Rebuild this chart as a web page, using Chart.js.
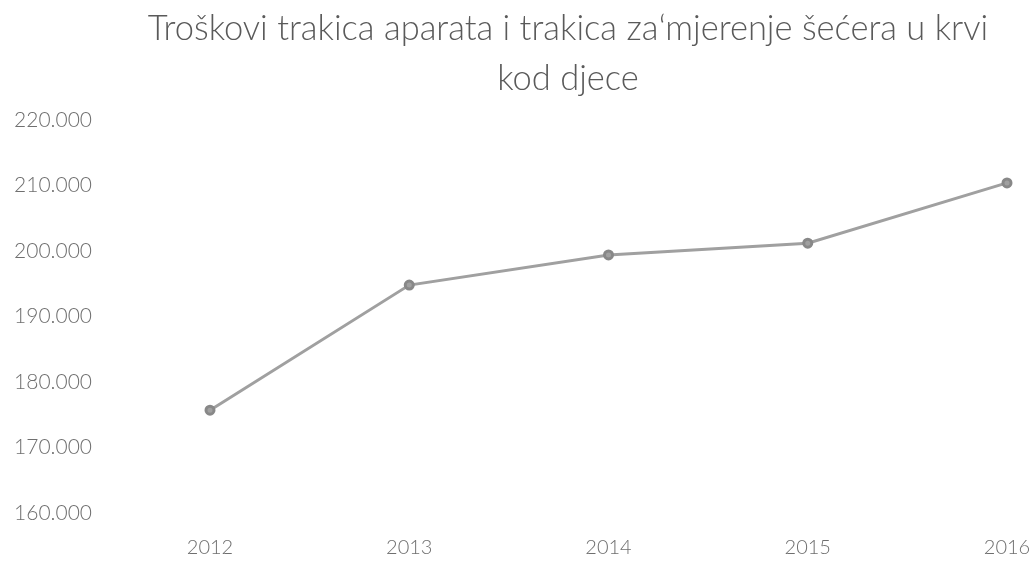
<!DOCTYPE html>
<html>
<head>
<meta charset="utf-8">
<script src="https://cdn.jsdelivr.net/npm/chart.js@4/dist/chart.umd.min.js"></script>
<style>
  html, body { margin: 0; padding: 0; background: #fff; overflow: hidden; }
  canvas { display: block; }
</style>
</head>
<body>
<canvas id="costChart" width="1032" height="566"></canvas>
<script>
const years = ['2012', '2013', '2014', '2015', '2016'];
const costs = [175700, 194800, 199400, 201200, 210400];
const yMin = 160000;
const yMax = 220000;
const yStep = 10000;
const titleLines = ['Troškovi trakica aparata i trakica za\u02bbmjerenje šećera u krvi', 'kod djece'];

function formatThousands(v) {
    return String(v).replace(/\B(?=(\d{3})+(?!\d))/g, '.');
}

// the scanned title sits right of the canvas centre, so narrow its box a bit
const shiftTitle = {
    id: 'shiftTitle',
    afterLayout(chart) {
        if (chart.titleBlock) {
            chart.titleBlock.left = 129;
            chart.titleBlock.right = 1007;
        }
    }
};

const ctx = document.getElementById('costChart').getContext('2d');

new Chart(ctx, {
    type: 'line',
    data: {
        labels: years,
        datasets: [{
            label: 'Troškovi',
            data: costs,
            borderColor: '#a0a0a0',
            borderWidth: 3,
            pointRadius: 4,
            pointBackgroundColor: '#a0a0a0',
            pointBorderColor: '#888',
            tension: 0
        }]
    },
    plugins: [shiftTitle],
    options: {
        responsive: false,
        animation: false,
        layout: { padding: { left: 0, right: 25, top: 0, bottom: 7 } },
        plugins: {
            legend: { display: false },
            tooltip: { enabled: false },
            title: {
                display: true,
                text: titleLines,
                color: '#5a5a5a',
                font: { family: 'Lato', size: 34.5, weight: 300, lineHeight: 1.45 },
                padding: { top: 4, bottom: 16 }
            }
        },
        scales: {
            x: {
                offset: false,
                grid: { display: false, drawTicks: false },
                border: { display: false },
                afterFit: (scale) => {
                    scale.height = 46;
                    scale.paddingLeft = 0;
                    scale.paddingRight = 0;
                },
                ticks: {
                    color: '#6f6f6f',
                    padding: 23,
                    maxRotation: 0,
                    autoSkip: false,
                    font: { family: 'Lato', size: 20, weight: 300 }
                }
            },
            y: {
                min: yMin,
                max: yMax,
                grid: { display: false, drawTicks: false },
                border: { display: false },
                afterFit: (scale) => {
                    scale.width = 210;
                    // big tick padding would otherwise eat the top/bottom space
                    scale.paddingTop = 12;
                    scale.paddingBottom = 12;
                },
                ticks: {
                    stepSize: yStep,
                    color: '#6f6f6f',
                    padding: 118,
                    font: { family: 'Lato', size: 21, weight: 300 },
                    callback: (v) => formatThousands(v)
                }
            }
        }
    }
});
</script>
</body>
</html>
